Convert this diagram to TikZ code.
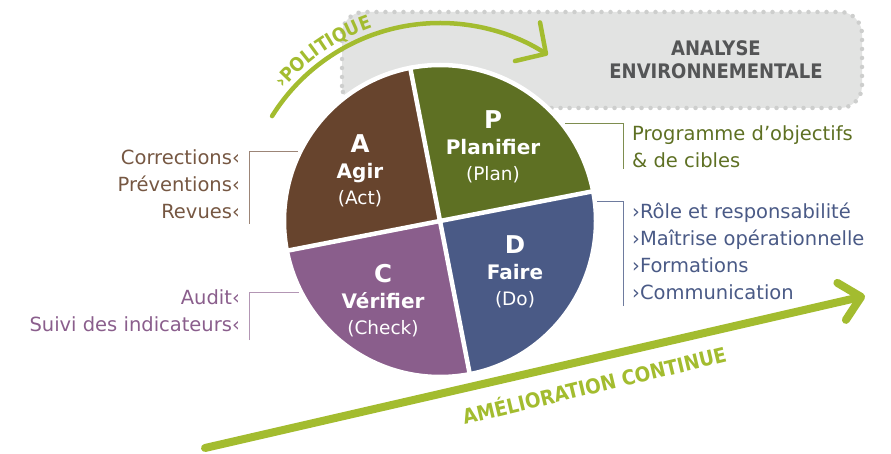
\documentclass[tikz,border=0pt]{standalone}
\usepackage{fontspec}
\setmainfont{DejaVu Sans}
\newfontfamily\etroit{DejaVu Sans Condensed}
\usetikzlibrary{arrows.meta, decorations.text}

\definecolor{agir}{RGB}{103,68,45}
\definecolor{planifier}{RGB}{94,112,35}
\definecolor{verifier}{RGB}{138,94,140}
\definecolor{faire}{RGB}{74,90,134}
\definecolor{lime}{RGB}{163,188,47}
\definecolor{grisboite}{RGB}{226,227,226}
\definecolor{grispoint}{RGB}{205,206,205}
\definecolor{gristexte}{RGB}{84,85,86}

\begin{document}
\begin{tikzpicture}[x=1pt, y=1pt,
    every node/.style={inner sep=0pt},
    liste/.style={font=\fontsize{19.5}{27}\selectfont},
    secteur/.style={text=white, align=center, font=\fontsize{18.5}{26}\selectfont},
    crochet/.style={line width=1pt},
    fleche/.style={draw=lime, line cap=round}]
    \useasboundingbox (0,0) rectangle (891,453);

    % boite
    \draw[fill=grisboite, draw=grispoint, line width=4.5pt, line cap=round,
        dash pattern=on 0pt off 9pt, rounded corners=22pt] (342,345) rectangle (862,441);
    \node[text=gristexte, align=center, font=\etroit\bfseries\fontsize{20}{23}\selectfont]
        (analyse) at (716,393) {ANALYSE\\ENVIRONNEMENTALE};

    % politique
    \coordinate (ctr) at (440,232);
    \draw[fleche, line width=4.5pt, -{Straight Barb[round, length=22pt, width=46pt]}]
        (ctr) ++(148:198) arc[start angle=148, end angle=57, radius=198];
    \path[decorate, decoration={text along path, text align=center, text color=lime,
        text={|\etroit\bfseries\fontsize{19}{19}\selectfont|›POLITIQUE}}]
        (ctr) ++(146:205) arc[start angle=146, end angle=103, radius=205];

    % roue
    \foreach \a/\c in {11/planifier, 101/agir, 191/verifier, 281/faire}
        \fill[\c] (ctr) -- ++(\a:156) arc[start angle=\a, delta angle=90, radius=156] -- cycle;
    \draw[white, line width=4.5pt] (ctr) +(11:158) -- +(191:158) (ctr) +(101:158) -- +(281:158);
    \node[circle, draw=white, line width=4.5pt, minimum size=312pt] (pie) at (ctr) {};

    \node[secteur] (agirtxt) at (360,282)
        {{\bfseries\fontsize{24.5}{26}\selectfont A}\\{\bfseries\fontsize{20}{26}\selectfont Agir}\\(Act)};
    \node[secteur] (plantxt) at (493,306)
        {{\bfseries\fontsize{24.5}{26}\selectfont P}\\{\bfseries\fontsize{20}{26}\selectfont Planifier}\\(Plan)};
    \node[secteur] (checktxt) at (383,152)
        {{\bfseries\fontsize{24.5}{26}\selectfont C}\\{\bfseries\fontsize{20}{26}\selectfont Vérifier}\\(Check)};
    \node[secteur] (doitxt) at (515,181)
        {{\bfseries\fontsize{24.5}{26}\selectfont D}\\{\bfseries\fontsize{20}{26}\selectfont Faire}\\(Do)};

    % listes
    \node[liste, text=agir!90, align=right, anchor=east] (corrections) at (240,269)
        {Corrections‹\\Préventions‹\\Revues‹};
    \node[liste, text=verifier, align=right, anchor=east] (audit) at (240,142)
        {Audit‹\\Suivi des indicateurs‹};
    \node[liste, text=planifier, align=left, anchor=west] (programme) at (632,306)
        {Programme d'objectifs\\\& de cibles};
    \node[liste, text=faire, align=left, anchor=west] (role) at (632,202)
        {›Rôle et responsabilité\\›Maîtrise opérationnelle\\›Formations\\›Communication};

    \draw[crochet, agir!65] (249,229) |- (pie.154);
    \draw[crochet, verifier!65] (249,113) |- (pie.207);
    \draw[crochet, planifier!80] (623,284) |- (pie.38);
    \draw[crochet, faire!80] (623,147) |- (pie.7);

    % amelioration
    \coordinate (debut) at (205,5);
    \coordinate (fin) at (865,157);
    \draw[fleche, line width=8pt, -{Straight Barb[round, length=20pt, width=38pt]}] (debut) -- (fin);
    \node[text=lime, rotate=13.5, font=\etroit\bfseries\fontsize{20.5}{21}\selectfont]
        (amelioration) at (594,69) {AMÉLIORATION CONTINUE};
\end{tikzpicture}
\end{document}
